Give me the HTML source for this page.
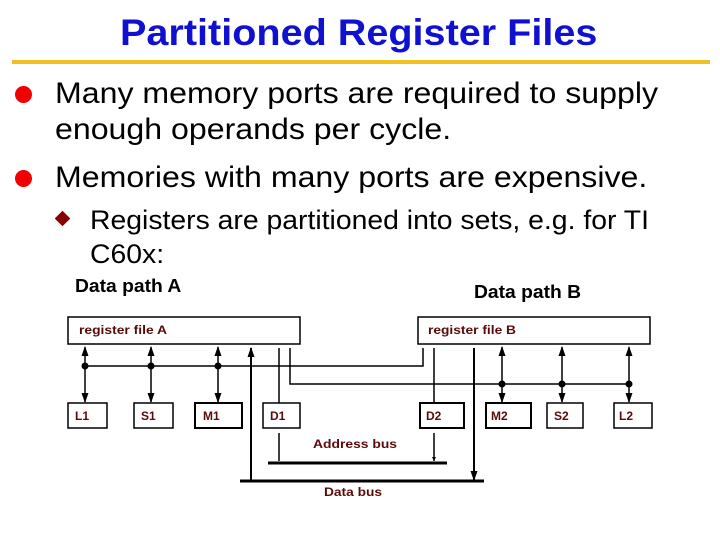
<!DOCTYPE html>
<html><head><style>
body{margin:0;width:720px;height:540px;background:#fff;overflow:hidden;font-family:"Liberation Sans",sans-serif;position:relative}
.t{position:absolute;white-space:nowrap;transform-origin:0 0;transform:scaleX(1.07)}
</style></head><body>
<div class="t" style="left:120px;top:12px;font-size:37px;font-weight:bold;color:#1010d0">Partitioned Register Files</div>
<div style="position:absolute;left:12px;top:60px;width:698px;height:4px;background:#f0c020"></div>
<div style="position:absolute;left:15px;top:86px;width:17px;height:17px;border-radius:50%;background:#f00000"></div>
<div style="position:absolute;left:15px;top:170px;width:17px;height:17px;border-radius:50%;background:#f00000"></div>
<div class="t" style="left:55px;top:76px;font-size:30px;line-height:36px">Many memory ports are required to supply<br>enough operands per cycle.</div>
<div class="t" style="left:55px;top:160px;font-size:30px;line-height:36px">Memories with many ports are expensive.</div>
<div style="position:absolute;left:57px;top:213px;width:11px;height:11px;background:#8b0000;transform:rotate(45deg)"></div>
<div class="t" style="left:90px;top:203px;font-size:26.5px;line-height:34px">Registers are partitioned into sets, e.g. for TI<br>C60x:</div>
<div class="t" style="left:75px;top:276px;font-size:18px;font-weight:bold">Data path A</div>
<div class="t" style="left:474px;top:282px;font-size:18px;font-weight:bold">Data path B</div>
<svg width="720" height="540" style="position:absolute;left:0;top:0" font-family="Liberation Sans,sans-serif" font-weight="bold" font-size="12" fill="#5a0a0a">
<defs><marker id="a" markerUnits="userSpaceOnUse" markerWidth="10" markerHeight="10" refX="9" refY="5" orient="auto-start-reverse"><path d="M0,1.5 L10,5 L0,8.5z" fill="#000"/></marker>
<marker id="s" markerUnits="userSpaceOnUse" markerWidth="4" markerHeight="4" refX="4" refY="2" orient="auto"><path d="M0,0 L4,2 L0,4z" fill="#000"/></marker></defs>
<g fill="none" stroke="#000" stroke-width="1.5">
<rect x="68" y="317" width="232" height="27"/><rect x="418" y="317" width="232" height="27"/>
<rect x="68" y="403" width="39" height="25"/><rect x="134" y="403" width="39" height="25"/>
<rect x="195" y="403" width="47" height="25" stroke-width="2"/><rect x="263" y="403" width="37" height="25"/>
<rect x="420" y="403" width="44" height="25" stroke-width="2"/><rect x="486" y="403" width="45" height="25" stroke-width="2"/>
<rect x="547" y="403" width="36" height="25"/><rect x="614" y="403" width="38" height="25"/>
<path d="M85,366 H423 V348 M290,348 V384 H629 M279,348 V403 M434,348 V403"/>
<g marker-start="url(#a)" marker-end="url(#a)"><path d="M85,347 V402"/><path d="M151,347 V402"/><path d="M218,347 V402"/><path d="M502,347 V402"/><path d="M562,347 V402"/><path d="M629,347 V402"/></g>
<path d="M279,433 V461 M434,433 V461" marker-end="url(#s)"/>
<path d="M268,463 H447" stroke-width="3"/>
<path d="M240,481 H484" stroke-width="3"/>
<path d="M251,348 V480 M474,348 V480" stroke-width="2" marker-start="url(#a)" marker-end="url(#a)"/>
</g>
<g fill="#000"><circle cx="85" cy="366" r="3.5"/><circle cx="151" cy="366" r="3.5"/><circle cx="218" cy="366" r="3.5"/><circle cx="502" cy="384" r="3.5"/><circle cx="562" cy="384" r="3.5"/><circle cx="629" cy="384" r="3.5"/></g>
<text x="79" y="334" textLength="88" lengthAdjust="spacingAndGlyphs">register file A</text><text x="428" y="334" textLength="88" lengthAdjust="spacingAndGlyphs">register file B</text>
<text x="75" y="420">L1</text><text x="141" y="420">S1</text><text x="203" y="420">M1</text><text x="270" y="420">D1</text>
<text x="426" y="420">D2</text><text x="491" y="420">M2</text><text x="554" y="420">S2</text><text x="619" y="420">L2</text>
<text x="313" y="448" textLength="84" lengthAdjust="spacingAndGlyphs">Address bus</text><text x="324" y="496" textLength="58" lengthAdjust="spacingAndGlyphs">Data bus</text>
</svg>
</body></html>
